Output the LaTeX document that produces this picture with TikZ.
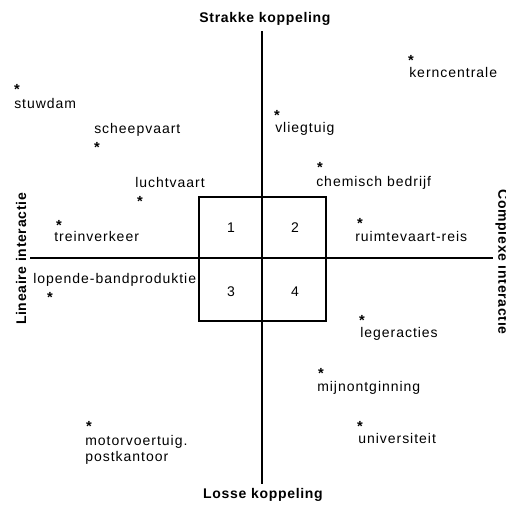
\documentclass[tikz,border=0pt]{standalone}
\usepackage{fontspec}
\newfontfamily\lblfam[LetterSpace=7]{Liberation Sans}
\newfontfamily\ttlfam[LetterSpace=5]{Liberation Sans}
\tikzset{
  lbl/.style={anchor=base west, inner sep=0pt, font=\lblfam\fontsize{10.5}{12.6}\selectfont},
  ast/.style={anchor=base, inner sep=0pt, font=\lblfam\bfseries\fontsize{11}{12.6}\selectfont},
  ttl/.style={inner sep=0pt, font=\ttlfam\bfseries\fontsize{10.5}{12.6}\selectfont},
  num/.style={inner sep=0pt, font=\lblfam\fontsize{10.5}{12.6}\selectfont},
  axis/.style={line width=0.9pt},
}
\begin{document}
\begin{tikzpicture}[x=0.75pt,y=-0.75pt]
\useasboundingbox (0,0) rectangle (506,504);
% axes
\coordinate (vt) at (262,31);
\coordinate (vb) at (262,484);
\coordinate (hl) at (30,258);
\coordinate (hr) at (493,258);
\draw[axis] (vt) -- (vb);
\draw[axis] (hl) -- (hr);
% central box
\node[draw, line width=0.9pt, minimum width=95.25pt, minimum height=93pt, inner sep=0pt] (box) at (262.5,259) {};
\node[num] (n1) at (231,228) {1};
\node[num] (n2) at (295,228) {2};
\node[num] (n3) at (231,292) {3};
\node[num] (n4) at (295,292) {4};
% titles
\node[ttl] (top) at (265,19) {Strakke koppeling};
\node[ttl] (bot) at (263,495) {Losse koppeling};
\node[ttl, rotate=90] (left) at (21,259) {Lineaire interactie};
\node[ttl, rotate=-90] (right) at (502,262) {Complexe interactie};
% items
\node[ast] (a1) at (17,94) {*};
\node[lbl] (t1) at (14,108) {stuwdam};
\node[lbl] (t2) at (94,133) {scheepvaart};
\node[ast] (a2) at (97,152) {*};
\node[lbl] (t3) at (135,187) {luchtvaart};
\node[ast] (a3) at (140,206) {*};
\node[ast] (a4) at (59,230) {*};
\node[lbl] (t4) at (54,241) {treinverkeer};
\node[ast] (a5) at (411,65) {*};
\node[lbl] (t5) at (409,77) {kerncentrale};
\node[ast] (a6) at (277,120) {*};
\node[lbl] (t6) at (275,132) {vliegtuig};
\node[ast] (a7) at (320,172) {*};
\node[lbl] (t7) at (316,186) {chemisch bedrijf};
\node[ast] (a8) at (360,228) {*};
\node[lbl] (t8) at (355,241) {ruimtevaart-reis};
\node[lbl] (t9) at (33,283) {lopende-bandproduktie};
\node[ast] (a9) at (50,302) {*};
\node[ast] (a10) at (89,431) {*};
\node[lbl] (t10) at (85,445) {motorvoertuig.};
\node[lbl] (t11) at (85,461) {postkantoor};
\node[ast] (a11) at (362,325) {*};
\node[lbl] (t12) at (360,337) {legeracties};
\node[ast] (a12) at (321,378) {*};
\node[lbl] (t13) at (317,391) {mijnontginning};
\node[ast] (a13) at (360,431) {*};
\node[lbl] (t14) at (358,443) {universiteit};
\end{tikzpicture}
\end{document}
